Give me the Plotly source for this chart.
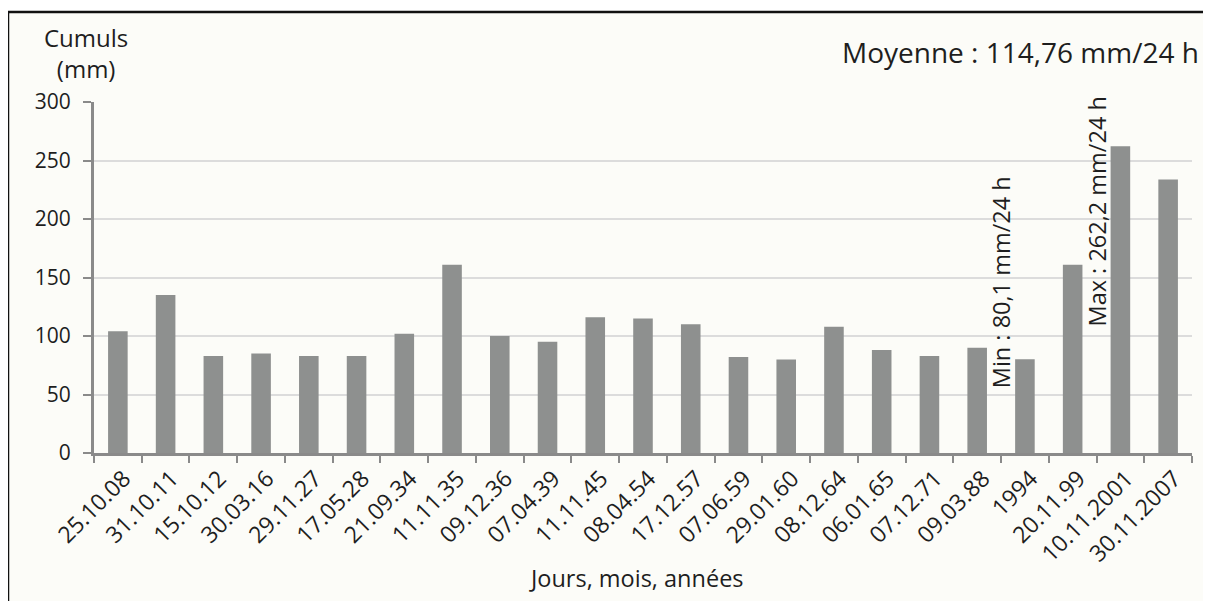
import plotly.graph_objects as go

# Dates of the events (jours.mois.années) and daily rainfall totals (mm/24 h)
dates = ['25.10.08', '31.10.11', '15.10.12', '30.03.16', '29.11.27', '17.05.28',
         '21.09.34', '11.11.35', '09.12.36', '07.04.39', '11.11.45', '08.04.54',
         '17.12.57', '07.06.59', '29.01.60', '08.12.64', '06.01.65', '07.12.71',
         '09.03.88', '1994', '20.11.99', '10.11.2001', '30.11.2007']
cumuls = [104, 135, 83, 85, 83, 83,
          102, 161, 100, 95, 116, 115,
          110, 82, 80, 108, 88, 83,
          90, 80.1, 161, 262.2, 233.7]
y_ticks = [0, 50, 100, 150, 200, 250, 300]

FONT = 'Open Sans'
TXT = '#1e1e1e'
AXIS = '#8a8a8a'

# the page body adds an 8px margin, so the figure is drawn 8px smaller
W, H = 1203, 593
L, R, T, B = 86, 19, 94, 148
PW, PH = W - L - R, H - T - B

def px(x):
    return (x - 8 - L) / PW

def py(y):
    return (H - B - (y - 8)) / PH

fig = go.Figure()
fig.add_trace(go.Bar(
    x = dates, y = cumuls,
    marker_color = '#8e908f',
    marker_line_width = 0,
    showlegend = False,
))

# frame around the chart, cream background inside
fig.add_shape(type = 'rect', xref = 'paper', yref = 'paper',
              x0 = px(8), x1 = px(1210), y0 = py(640), y1 = py(12),
              line = dict(color = '#111111', width = 2.5),
              fillcolor = '#fcfcf8', layer = 'below')

fig.update_layout(
    width = W, height = H,
    margin = dict(l = L, r = R, t = T, b = B),
    paper_bgcolor = 'white',
    plot_bgcolor = 'rgba(0,0,0,0)',
    bargap = 0.59,
    font = dict(family = FONT, color = TXT),
    xaxis = dict(
        type = 'category',
        showline = True, linecolor = AXIS, linewidth = 3,
        ticks = 'outside', tickson = 'boundaries', ticklen = 7, tickwidth = 2, tickcolor = AXIS,
        tickangle = -45,
        ticklabelshift = 6,
        tickfont = dict(size = 23, family = FONT, color = TXT),
        showgrid = False,
    ),
    yaxis = dict(
        range = [0, 300],
        tickvals = y_ticks,
        showline = True, linecolor = AXIS, linewidth = 3,
        ticks = 'outside', ticklen = 8, tickwidth = 2, tickcolor = AXIS,
        ticklabelstandoff = 8,
        tickfont = dict(size = 21, family = FONT, color = TXT),
        showgrid = True, gridcolor = '#dcdcdc', gridwidth = 1.5,
        zeroline = False,
    ),
)

def label(text, x, y, size, xanchor = 'center'):
    fig.add_annotation(text = text, xref = 'paper', yref = 'paper',
                       x = px(x), y = py(y), xanchor = xanchor, yanchor = 'middle',
                       showarrow = False, font = dict(size = size), align = 'center')

label('Cumuls<br>(mm)', 86, 53, 24)
label('Moyenne : 114,76 mm/24 h', 1201, 52, 28, xanchor = 'right')
label('Jours, mois, années', 636, 578, 23.5)

fig.add_annotation(text = 'Min : 80,1 mm/24 h', x = 18.5, y = 146, textangle = -90,
                   xanchor = 'center', yanchor = 'middle',
                   showarrow = False, font = dict(size = 23.5))
fig.add_annotation(text = 'Max : 262,2 mm/24 h', x = 20.5, y = 206, textangle = -90,
                   xanchor = 'center', yanchor = 'middle',
                   showarrow = False, font = dict(size = 23.5))

fig.write_html("out.html")
